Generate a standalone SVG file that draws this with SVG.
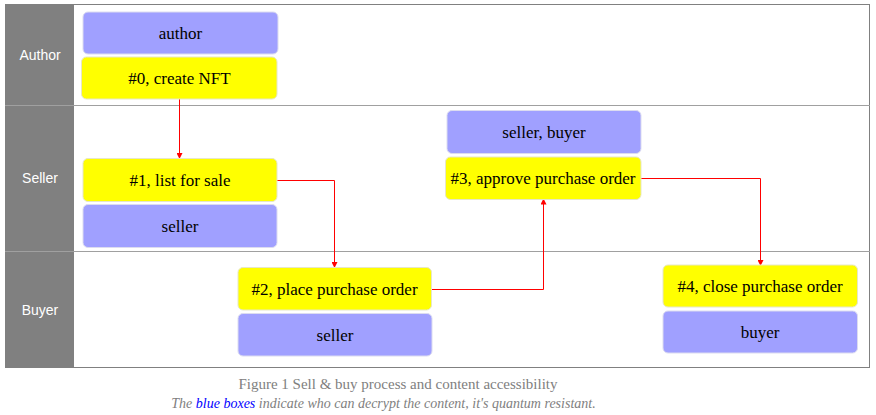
<svg xmlns="http://www.w3.org/2000/svg" width="876" height="415" viewBox="0 0 876 415">
<defs>
<style>
.lane{fill:#808080}
.lanelbl{font-family:"Liberation Sans",Arial,sans-serif;font-size:14px;fill:#ffffff;text-anchor:middle}
.sep{stroke:#a0a0a0;stroke-width:1;fill:none}
.blue{fill:#a0a0ff;stroke:#dcdcf0;stroke-width:1}
.yel{fill:#ffff00;stroke:#e6e6c8;stroke-width:1}
.t{font-family:"Liberation Serif","Times New Roman",serif;font-size:17px;fill:#000;text-anchor:middle}
.conn{stroke:#ff0000;stroke-width:1;fill:none}
.cap{font-family:"Liberation Serif","Times New Roman",serif;font-size:15px;fill:#808080;text-anchor:middle}
.cap2{font-size:14px;font-style:italic}
</style>
<marker id="arr" markerWidth="6" markerHeight="6" refX="5" refY="3" orient="auto" markerUnits="userSpaceOnUse">
<path d="M0,0 L6,3 L0,6 z" fill="#ff0000"/>
</marker>
</defs>
<rect x="0" y="0" width="876" height="415" fill="#ffffff"/>
<g id="frame">
<rect x="5.5" y="4.5" width="864" height="363" fill="#ffffff" stroke="#808080"/>
<rect class="lane" x="5" y="4" width="69" height="364"/>
<line class="sep" x1="5" y1="105.5" x2="870" y2="105.5"/>
<line class="sep" x1="5" y1="251.5" x2="870" y2="251.5"/>
<text class="lanelbl" x="40" y="60">Author</text>
<text class="lanelbl" x="40" y="183">Seller</text>
<text class="lanelbl" x="40" y="315">Buyer</text>
</g>
<g id="connectors">
<path class="conn" d="M179.5,99 V158" marker-end="url(#arr)"/>
<path class="conn" d="M277,180.5 H334.5 V267" marker-end="url(#arr)"/>
<path class="conn" d="M432,289.5 H543.5 V199.5" marker-end="url(#arr)"/>
<path class="conn" d="M641,178.5 H760.5 V265" marker-end="url(#arr)"/>
</g>
<g id="n-author">
<rect class="blue" x="83" y="12" width="195" height="42" rx="5"/>
<text class="t" x="180.5" y="39">author</text>
</g>
<g id="n0">
<rect class="yel" x="81.5" y="57" width="195.5" height="42" rx="5"/>
<text class="t" x="179.5" y="84">#0, create NFT</text>
</g>
<g id="n1">
<rect class="yel" x="83" y="158.5" width="194" height="43" rx="5"/>
<text class="t" x="180" y="186">#1, list for sale</text>
</g>
<g id="n1-seller">
<rect class="blue" x="83" y="204.5" width="194" height="43" rx="5"/>
<text class="t" x="180" y="232">seller</text>
</g>
<g id="n2">
<rect class="yel" x="238" y="267.5" width="193.5" height="42.5" rx="5"/>
<text class="t" x="334.5" y="295">#2, place purchase order</text>
</g>
<g id="n2-seller">
<rect class="blue" x="238" y="313.5" width="194" height="42.5" rx="5"/>
<text class="t" x="335" y="341">seller</text>
</g>
<g id="n3-access">
<rect class="blue" x="447" y="110.5" width="194" height="43" rx="5"/>
<text class="t" x="544" y="138">seller, buyer</text>
</g>
<g id="n3">
<rect class="yel" x="445.5" y="157" width="195.5" height="42.5" rx="5"/>
<text class="t" x="543" y="184">#3, approve purchase order</text>
</g>
<g id="n4">
<rect class="yel" x="663" y="265" width="194.5" height="42" rx="5"/>
<text class="t" x="760" y="292">#4, close purchase order</text>
</g>
<g id="n4-buyer">
<rect class="blue" x="663" y="311" width="194.5" height="42" rx="5"/>
<text class="t" x="760" y="338">buyer</text>
</g>
<g id="caption">
<text class="cap" x="398" y="389">Figure 1 Sell &amp; buy process and content accessibility</text>
<text class="cap cap2" x="383.5" y="408">The <tspan fill="#0000ff">blue boxes</tspan> indicate who can decrypt the content, it's quantum resistant.</text>
</g>
</svg>
